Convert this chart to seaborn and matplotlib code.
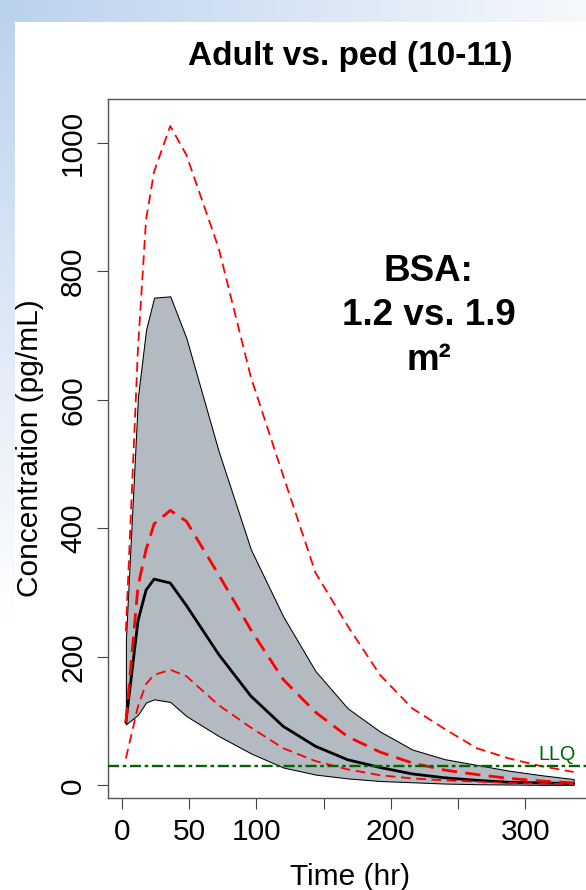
import numpy as np
import pandas as pd
import matplotlib
matplotlib.use("Agg")
import matplotlib.pyplot as plt
import seaborn as sns

# ---------------- data ----------------
time_hr = [3, 12, 18, 24, 36, 48, 72, 96, 120, 144, 168, 192, 216, 240, 264, 288, 312, 336]
ped_low = [95, 110, 129, 134, 130, 108, 77, 50, 28, 17, 11, 7, 5, 3, 2, 1.5, 1, 1]
ped_high = [227, 605, 709, 759, 761, 696, 520, 367, 263, 178, 120, 84, 56, 41, 32, 23, 16, 10]
ped_median = [98, 256, 304, 321, 315, 280, 204, 139, 92, 61, 40, 28, 18, 12, 8, 5, 4, 3]
adult_low = [42, 123, 158, 172, 180, 170, 125, 90, 58, 38, 25, 16, 11, 8, 6, 4, 3, 2]
adult_median = [98, 310, 367, 407, 428, 411, 328, 242, 165, 114, 76, 52, 35, 24, 17, 11, 7, 4]
adult_high = [240, 680, 880, 955, 1026, 981, 836, 635, 482, 331, 248, 172, 120, 88, 58, 42, 30, 21]
llq = 30

xtick_values = [0, 50, 100, 150, 200, 250, 300]
xtick_labels = ["0", "50", "100", "", "200", "", "300"]
ytick_values = [0, 200, 400, 600, 800, 1000]
ytick_labels = ["0", "200", "400", "600", "800", "1000"]

title = "Adult vs. ped (10-11)"
xlabel = "Time (hr)"
ylabel = "Concentration (pg/mL)"
note = "BSA:\n1.2 vs. 1.9\nm\u00b2"

df = pd.DataFrame({
    "time": time_hr, "ped_low": ped_low, "ped_high": ped_high,
    "ped_median": ped_median, "adult_low": adult_low,
    "adult_median": adult_median, "adult_high": adult_high,
})

# ---------------- style ----------------
sns.set_style("white")
plt.rcParams["font.family"] = ["Liberation Sans", "DejaVu Sans"]
plt.rcParams["lines.scale_dashes"] = False
for k in ["text.color", "axes.labelcolor", "xtick.color", "ytick.color"]:
    plt.rcParams[k] = "black"

W, H, DPI = 586, 890, 100
fig = plt.figure(figsize=(W / DPI, H / DPI), dpi=DPI)

# slide background (light blue gradient on top and left edges)
bg = fig.add_axes([0, 0, 1, 1], zorder=-10)
img = np.ones((H, W, 3))
blue = np.array([0.73, 0.82, 0.93])
yy, xx = np.mgrid[0:H, 0:W]
top_w = np.clip(1 - xx / (W * 1.15), 0, 1)
left_w = np.clip(1 - yy / 620.0, 0, 1)
w = np.where(yy < 22, top_w, 0.0)
w = np.where(xx < 15, np.maximum(w, left_w), w)
img = img * (1 - w[..., None]) + blue * w[..., None]
bg.imshow(img, extent=[0, W, H, 0], aspect="auto", interpolation="bilinear")
bg.set_xlim(0, W)
bg.set_ylim(H, 0)
bg.axis("off")

left_px, right_px, top_px, bottom_px = 108, 591.5, 99, 797.5
ax = fig.add_axes([left_px / W, 1 - bottom_px / H,
                   (right_px - left_px) / W, (bottom_px - top_px) / H])
ax.set_facecolor("none")

# pediatric prediction band
ax.fill_between(df["time"], df["ped_low"], df["ped_high"], facecolor="#b3bac1",
                edgecolor="black", linewidth=0.75, zorder=1)

# pediatric median
sns.lineplot(data=df, x="time", y="ped_median", ax=ax, color="black",
             linewidth=2.0, estimator=None, sort=False, zorder=3)

# adult percentiles (red dashed)
sns.lineplot(data=df, x="time", y="adult_high", ax=ax, color="#ff0000",
             linewidth=1.3, estimator=None, sort=False, zorder=4)
ax.lines[-1].set_dashes((7.0, 4.0))
sns.lineplot(data=df, x="time", y="adult_median", ax=ax, color="#ff0000",
             linewidth=2.0, estimator=None, sort=False, zorder=4)
ax.lines[-1].set_dashes((11.0, 6.0))
sns.lineplot(data=df, x="time", y="adult_low", ax=ax, color="#ff0000",
             linewidth=1.3, estimator=None, sort=False, zorder=4)
ax.lines[-1].set_dashes((7.0, 4.0))

# LLQ line
llq_line = ax.axhline(llq, color="#006400", linewidth=1.7, zorder=5)
llq_line.set_dashes((8.0, 2.6, 2.6, 2.6))
ax.text(309.5, llq + 9, "LLQ", color="#006400", fontsize=14.2,
        ha="left", va="baseline", zorder=6)

# annotation (anchored at baseline of last line)
ax.text(228, 647, note, fontsize=26.5, fontweight="bold", ha="center",
        va="baseline", linespacing=1.35, multialignment="center", zorder=6)

# axes
ax.set_xlim(-10.3, 349.3)
ax.set_ylim(-18.7, 1068)
ax.set_xticks(xtick_values, xtick_labels)
ax.set_yticks(ytick_values, ytick_labels)
ax.tick_params(axis="both", direction="out", length=8, width=0.8,
               color="#444444", labelcolor="black", labelsize=21.5, pad=7,
               bottom=True, left=True)
ax.tick_params(axis="y", labelrotation=90)
for lbl in ax.get_yticklabels():
    lbl.set_va("center")
for s in ax.spines.values():
    s.set_visible(True)
    s.set_color("#555555")
    s.set_linewidth(1.0)

ax.set_title(title, fontsize=24, fontweight="bold", pad=24.5, color="black")
ax.set_xlabel(xlabel, fontsize=21.5, color="black")
ax.set_ylabel(ylabel, fontsize=21.5, color="black")
ax.xaxis.label.set_va("baseline")
ax.xaxis.set_label_coords(0.5, (bottom_px - 885) / (bottom_px - top_px))
ax.yaxis.label.set_va("baseline")
ax.yaxis.set_label_coords((38 - left_px) / (right_px - left_px), 0.5)

fig.savefig("out.png", dpi=DPI)
